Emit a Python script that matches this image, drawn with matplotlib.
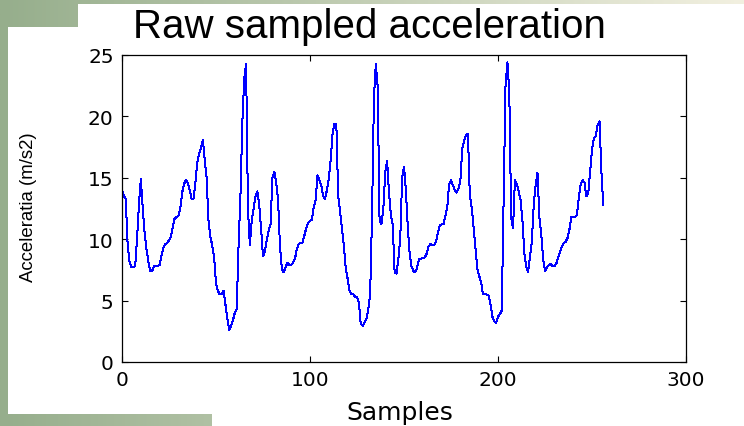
import numpy as np
import matplotlib
import matplotlib.pyplot as plt
from matplotlib.patches import Rectangle

matplotlib.use('Agg')

# raw acceleration samples (m/s2)
accel_a = [14.0, 13.5, 13.3, 9.5, 8.2, 7.7, 7.7, 7.8, 10.0, 12.8,
           14.9, 12.6, 10.6, 9.2, 8.2, 7.4, 7.4, 7.8, 7.8, 7.8,
           7.9, 8.7, 9.3, 9.6, 9.7, 9.9, 10.2, 11.0, 11.7, 11.8,
           11.9, 12.5, 13.8, 14.5, 14.8, 14.6, 14.0, 13.3, 13.3, 14.5,
           16.2, 17.0, 17.4, 18.1, 16.5, 15.0, 11.5, 10.2, 9.5, 8.5,
           6.4, 5.8, 5.5, 5.5, 5.8, 4.7, 3.6, 2.6, 2.9, 3.4,
           4.0, 4.3, 9.5, 13.5, 19.5, 23.0, 24.3, 12.5, 9.5, 11.5,
           12.5, 13.5, 13.9, 12.8, 10.8, 8.6, 9.0, 9.9, 10.7, 11.2,
           15.0, 15.5, 14.6, 13.3, 9.5, 7.6, 7.3, 7.7, 8.1, 7.9]
accel_b = [7.9, 8.1, 8.4, 9.2, 9.6, 9.7, 9.7, 10.3, 10.9, 11.3,
           11.5, 11.6, 12.6, 13.2, 15.2, 14.8, 14.4, 13.5, 13.3, 14.0,
           14.9, 16.5, 18.6, 19.4, 19.4, 13.5, 12.3, 10.8, 9.5, 7.6,
           6.8, 5.8, 5.5, 5.5, 5.3, 5.3, 4.8, 3.1, 2.95, 3.2,
           3.5, 4.3, 5.5, 12.0, 21.5, 24.3, 22.4, 11.5, 11.2, 12.5,
           15.4, 16.4, 13.8, 12.0, 11.2, 7.3, 7.2, 8.4, 10.0, 15.0,
           15.9, 14.0, 11.0, 8.8, 7.8, 7.4, 7.3, 7.7, 8.4, 8.4,
           8.5, 8.5, 8.8, 9.4, 9.6, 9.5, 9.5, 9.8, 10.5, 11.1,
           11.2, 11.2, 11.9, 12.6, 14.5, 14.8, 14.4, 14.0, 13.8, 14.1]
accel_c = [14.8, 17.4, 18.0, 18.5, 18.6, 13.6, 12.6, 11.0, 9.3, 7.6,
           7.0, 6.5, 5.5, 5.5, 5.5, 5.4, 4.7, 3.7, 3.3, 3.2,
           3.7, 3.9, 4.2, 13.5, 22.5, 24.4, 22.0, 11.8, 10.9, 14.8,
           14.5, 13.9, 13.2, 11.5, 8.9, 7.8, 7.3, 8.6, 9.8, 12.8,
           14.4, 15.4, 11.8, 10.4, 8.4, 7.4, 7.7, 7.9, 8.0, 7.8,
           7.8, 8.0, 8.5, 9.0, 9.4, 9.7, 9.8, 10.1, 10.8, 11.8,
           11.8, 11.8, 12.0, 13.4, 14.5, 14.8, 14.6, 13.5, 13.7, 15.5,
           17.3, 18.2, 18.4, 19.3, 19.6, 15.5, 12.8]
accel = accel_a + accel_b + accel_c
samples = np.arange(len(accel))

x_ticks = [0, 100, 200, 300]
y_ticks = [0, 5, 10, 15, 20, 25]

W, H = 744, 427
fig = plt.figure(figsize=(W / 100, H / 100), dpi=100)

# slide-like background: green/cream gradient with white panels
bg = fig.add_axes([0, 0, 1, 1])
bg.set_xlim(0, W)
bg.set_ylim(H, 0)
bg.axis('off')
c0 = np.array([150, 174, 140]) / 255
c1 = np.array([242, 240, 224]) / 255
t = np.linspace(0, 1, 256)[None, :, None]
grad = c0 + (c1 - c0) * t
grad = np.repeat(grad, 4, axis=0)
bg.imshow(grad, extent=[0, W, H, 0], aspect='auto', interpolation='bilinear')
for (x0, y0, x1, y1) in [(8, 28, W, 415), (78, 5, W, 415), (212, 415, W, H)]:
    bg.add_patch(Rectangle((x0, y0), x1 - x0, y1 - y0, facecolor='white',
                           edgecolor='none'))

ax = fig.add_axes([122 / W, 1 - 363 / H, 564 / W, 307 / H])
ax.plot(samples, accel, color='#0000ff', lw=0.72, antialiased=False)
ax.set_xlim(0, 300)
ax.set_ylim(0, 25)
ax.set_xticks(x_ticks)
ax.set_yticks(y_ticks)
ax.tick_params(direction='in', length=4.5, width=0.8, top=True, right=True,
               labelsize=14.5, pad=6, colors='black')
for lab in ax.get_xticklabels() + ax.get_yticklabels():
    lab.set_family('DejaVu Sans')
for sp in ax.spines.values():
    sp.set_linewidth(0.9)

fig.text(369 / W, 1 - 38 / H, 'Raw sampled acceleration', ha='center',
         va='baseline', fontsize=29, family=['Liberation Sans', 'DejaVu Sans'])
fig.text(29 / W, 1 - 207 / H, 'Acceleratia (m/s2)', rotation=90, ha='center',
         va='center', fontsize=13.4, family=['Liberation Sans', 'DejaVu Sans'])
fig.text(400 / W, 1 - 420 / H, 'Samples', ha='center', va='baseline',
         fontsize=18, family='DejaVu Sans')

fig.savefig('out.png', dpi=100)
